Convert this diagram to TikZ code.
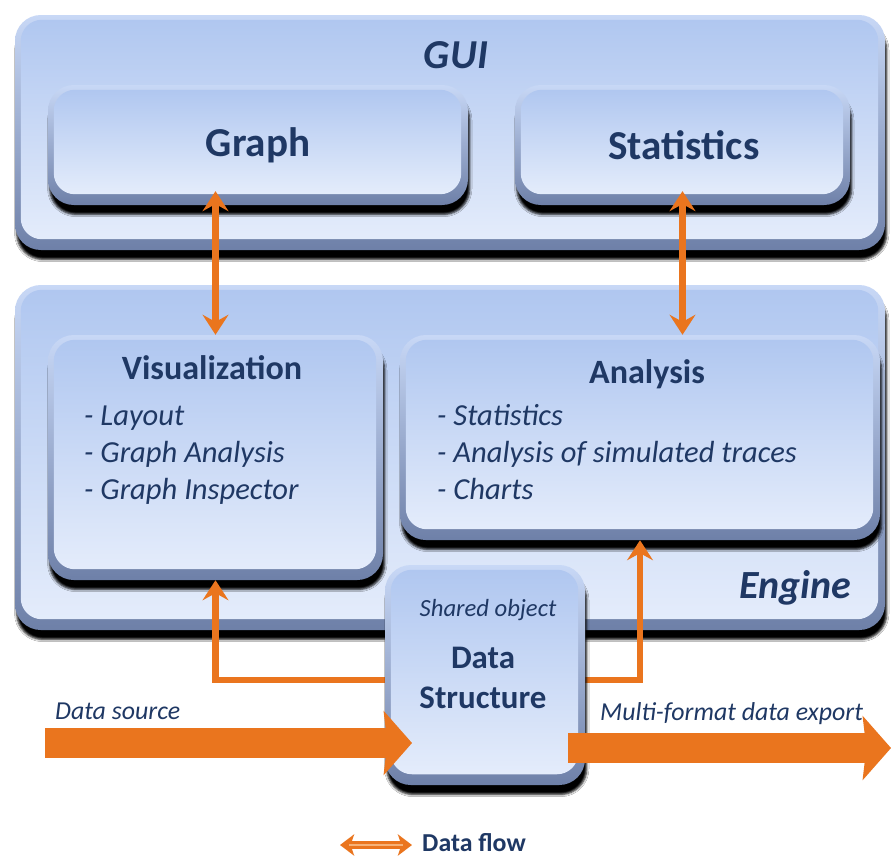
\documentclass[tikz,border=0pt]{standalone}
\usepackage{fontspec}
\setmainfont{Carlito}
\usetikzlibrary{arrows.meta,fit,shadows.blur,calc}
\definecolor{txt}{RGB}{31,56,100}
\definecolor{ora}{RGB}{234,117,30}
\definecolor{oraL}{RGB}{246,178,120}
\definecolor{rimTop}{RGB}{200,216,246}
\definecolor{rimBot}{RGB}{110,128,168}
\definecolor{fTop}{RGB}{176,199,240}
\definecolor{fBot}{RGB}{228,236,251}
\newcommand\bevbox[3]{%
  \node[panel={#2 #3}] (#1) {};
  \path[face] ([shift={(6,5)}]#1.north west) rectangle ([shift={(-7,-11)}]#1.south east);
}
\begin{document}
\begin{tikzpicture}[x=0.851pt,y=-0.851pt,
  panel/.style={fit={#1}, inner sep=0pt, rounded corners=22pt,
    top color=rimTop, bottom color=rimBot, draw=none,
    blur shadow={shadow blur steps=4, shadow xshift=1.5pt, shadow yshift=-8pt, shadow opacity=100, shadow blur extra rounding=2pt}},
  face/.style={rounded corners=18pt, top color=fTop, bottom color=fBot},
  lbl/.style={text=txt, inner sep=0pt},
  flow/.style={draw=ora, line width=5.5pt, -{Stealth[length=17pt,width=22pt,inset=6pt]}},
  dflow/.style={draw=ora, line width=5.5pt, {Stealth[length=17pt,width=22pt,inset=6pt]}-{Stealth[length=17pt,width=22pt,inset=6pt]}},
  big/.style={draw=ora, line width=25pt, -{Stealth[length=24pt,width=54pt,inset=3pt]}},
]
\useasboundingbox (0,0) rectangle (893,859);
\fill[white] (0,0) rectangle (893,859);

% GUI layer
\bevbox{gui}{(15,15)}{(885,250)}
\node[lbl, font=\fontsize{35}{40}\selectfont\bfseries\itshape] (guilbl) at (456,55) {GUI};
\bevbox{graph}{(48,85)}{(468,205)}
\bevbox{stats}{(515,85)}{(850,205)}
\node[lbl, font=\fontsize{35}{40}\selectfont\bfseries] (graphlbl) at (258,145) {Graph};
\node[lbl, font=\fontsize{35}{40}\selectfont\bfseries] (statslbl) at (684,145) {Statistics};

% Engine layer
\bevbox{engine}{(15,285)}{(885,630)}
\bevbox{vis}{(48,335)}{(383,580)}
\bevbox{ana}{(400,335)}{(880,540)}
\node[lbl, font=\fontsize{29}{33}\selectfont\bfseries] (vislbl) at (212,368) {Visualization};
\node[lbl, font=\fontsize{29}{33}\selectfont\bfseries] (analbl) at (647,374) {Analysis};
\node[lbl, font=\fontsize{26}{31.5}\selectfont\itshape, anchor=north west, align=left] (visitems) at (84,406)
  {- Layout\\- Graph Analysis\\- Graph Inspector};
\node[lbl, font=\fontsize{26}{31.5}\selectfont\itshape, anchor=north west, align=left] (anaitems) at (437,404)
  {- Statistics\\- Analysis of simulated traces\\- Charts};
\node[lbl, font=\fontsize{34}{38}\selectfont\bfseries\itshape] (enginelbl) at (795,588) {Engine};

% GUI <-> Engine flows
\draw[dflow] ([yshift=12pt]vis.north |- graph.south) -- (vis.north);
\draw[dflow] ([yshift=12pt]stats.south) -- (stats.south |- ana.north);

% Data structure
\coordinate (dsl) at (386,680);
\coordinate (dsr) at (584,680);
\draw[flow] (dsl) -| (vis.south);
\draw[flow] (dsr) -| (ana.south);
\bevbox{ds}{(385,565)}{(585,785)}
\node[lbl, font=\fontsize{21}{24}\selectfont\itshape] (shared) at (488,610) {Shared object};
\node[lbl, font=\fontsize{28}{32}\selectfont\bfseries, align=center] (dslbl) at (483,678) {Data\\[2pt]Structure};

% Data source / export
\coordinate (srcA) at (45,743);
\coordinate (srcB) at (412,743);
\coordinate (expA) at (568,748);
\coordinate (expB) at (891,748);
\draw[big] (srcA) -- (srcB);
\draw[big] (expA) -- (expB);
\node[lbl, font=\fontsize{22}{26}\selectfont\itshape, anchor=west] (srclbl) at (55,711) {Data source};
\node[lbl, font=\fontsize{22}{26}\selectfont\itshape, anchor=west] (explbl) at (600,714) {Multi-format data export};

% Legend
\coordinate (lgA) at (340,845);
\coordinate (lgB) at (412,845);
\draw[draw=ora, line width=7pt, {Stealth[length=12pt,width=18pt,inset=3pt]}-{Stealth[length=12pt,width=18pt,inset=3pt]}] (lgA) -- (lgB);
\draw[draw=oraL, line width=1.2pt] ([xshift=8pt]lgA) -- ([xshift=-8pt]lgB);
\node[lbl, font=\fontsize{22}{26}\selectfont\bfseries, anchor=west] (legend) at (422,843) {Data flow};
\end{tikzpicture}
\end{document}
